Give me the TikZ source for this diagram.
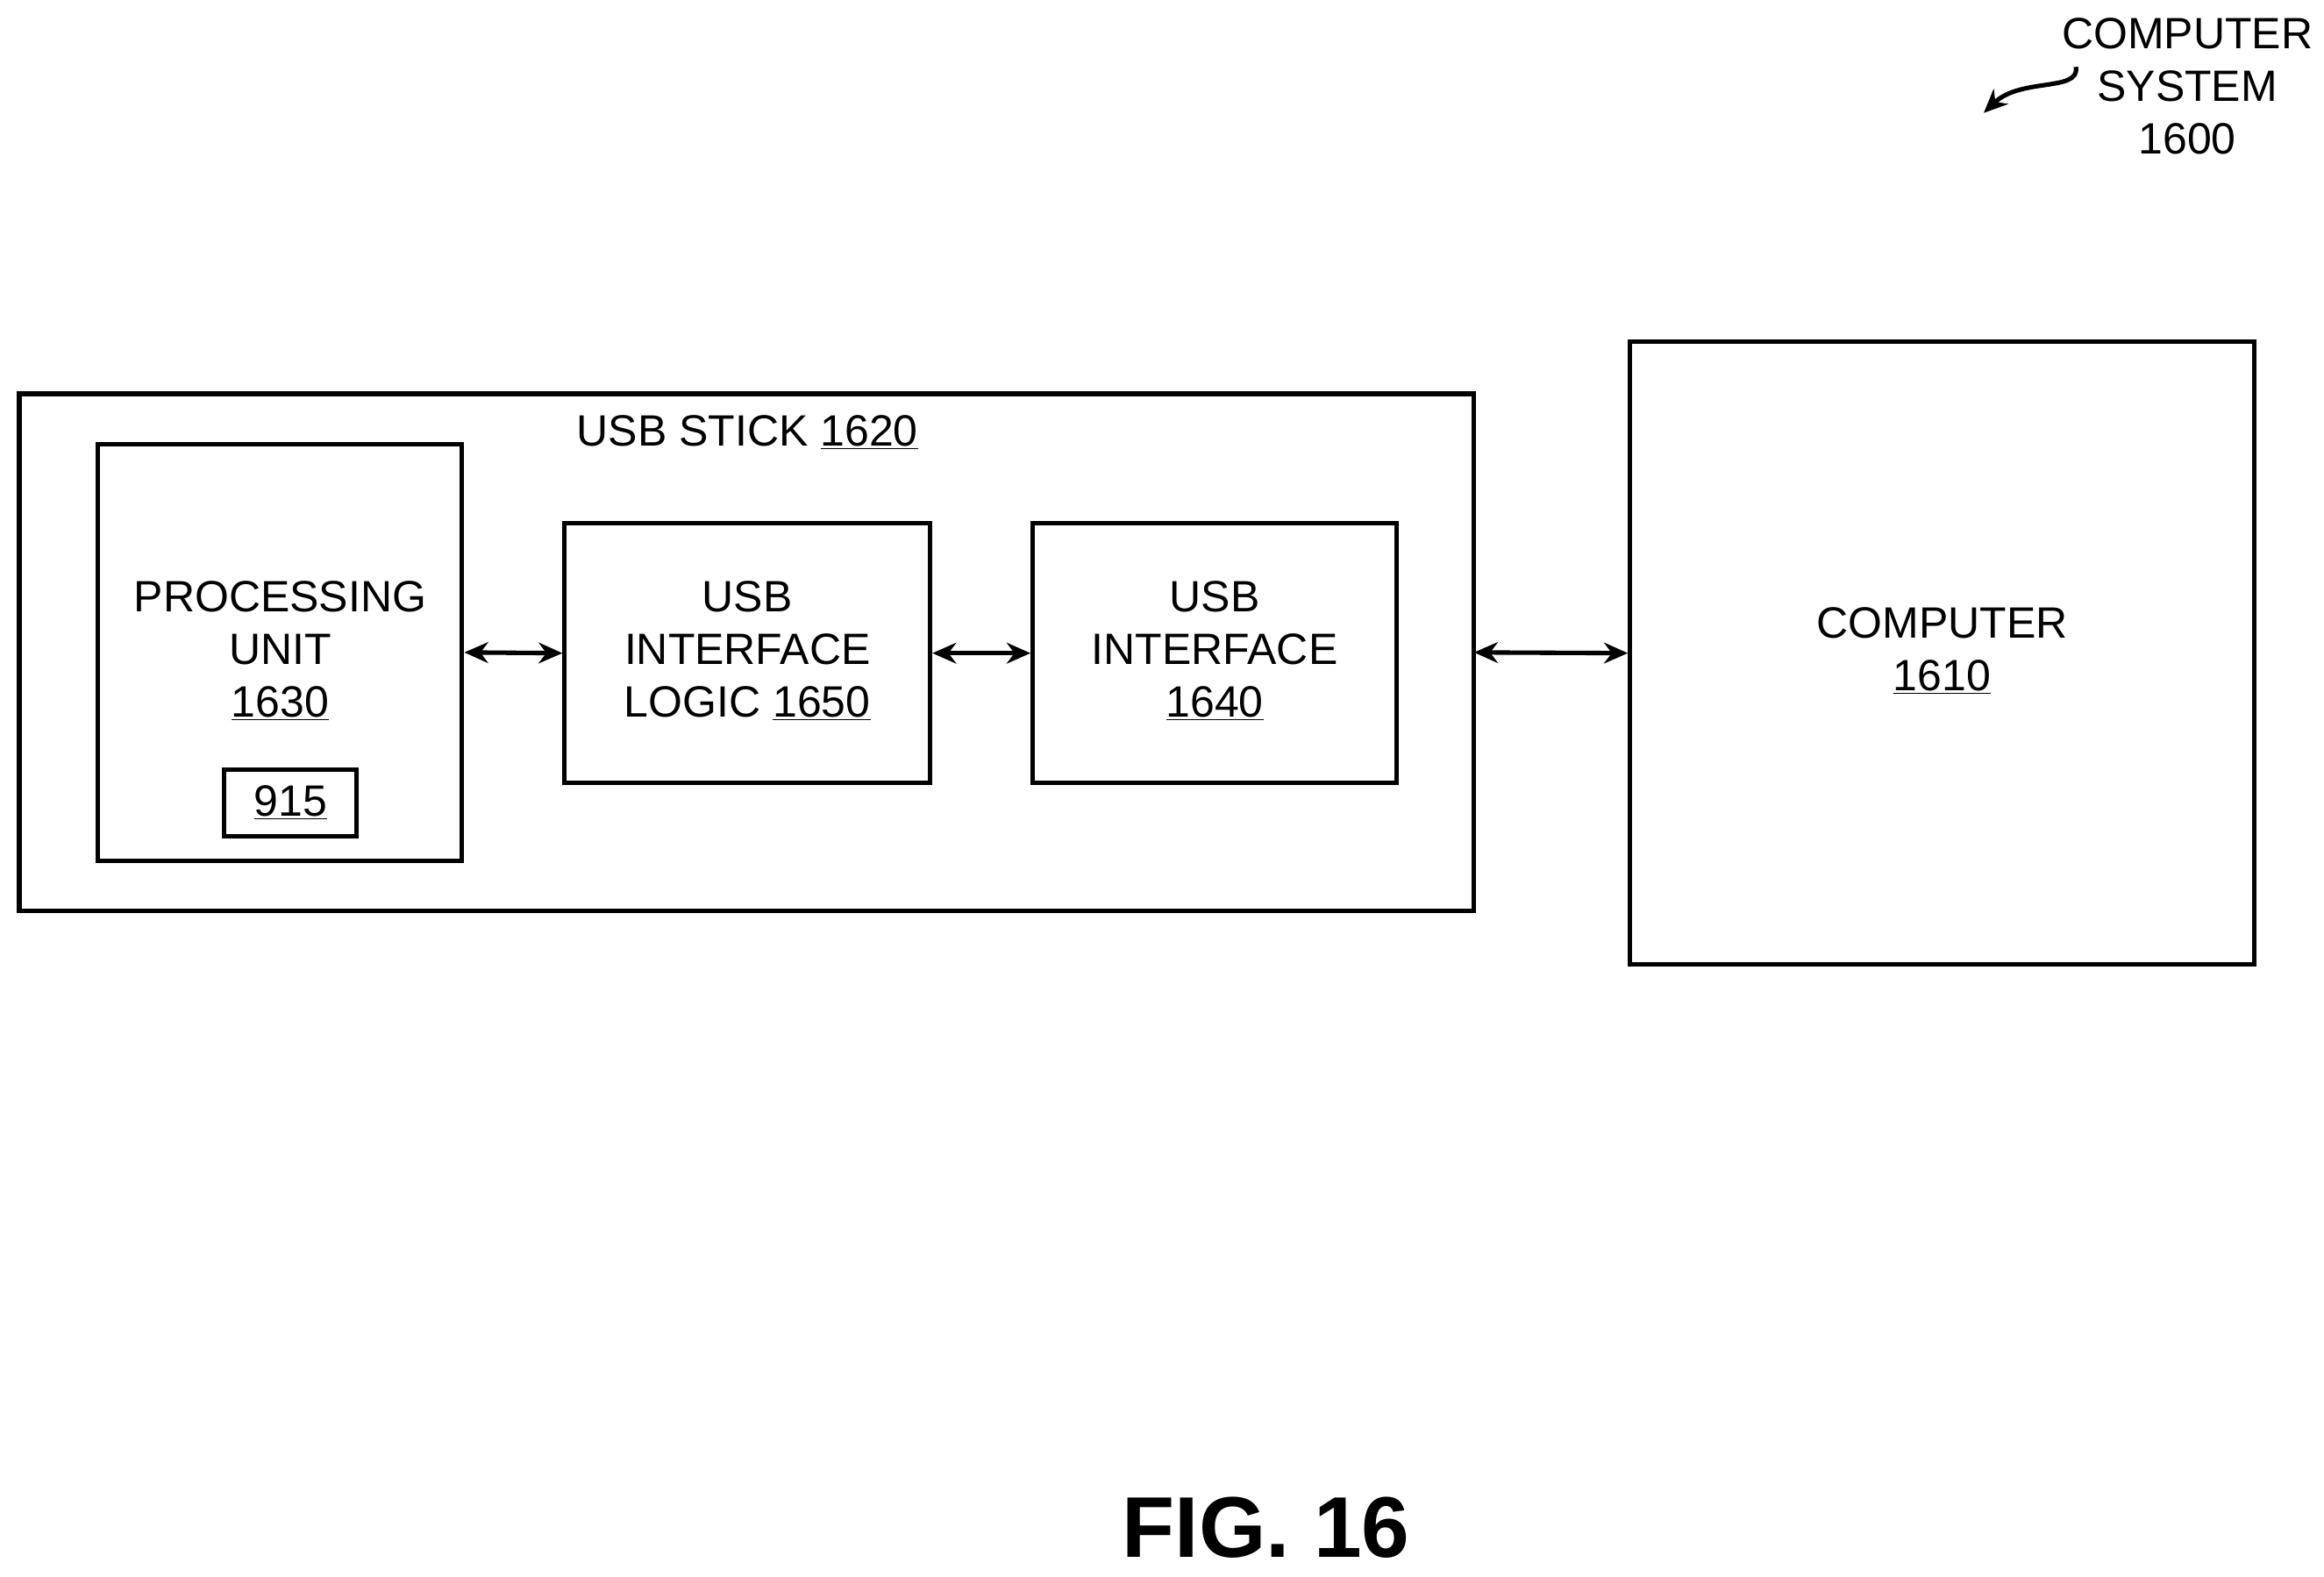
\documentclass[tikz,border=0pt]{standalone}
\usepackage{fontspec}
\setmainfont{Liberation Sans}
\usetikzlibrary{arrows.meta}
\begin{document}
\begin{tikzpicture}[x=1pt,y=-1pt,
  box/.style={draw,line width=3pt},
  lbl/.style={align=center,inner sep=0pt,font=\fontsize{29.5}{35.5}\selectfont},
  dbl/.style={line width=3pt,{Stealth[length=16pt,width=14pt]}-{Stealth[length=16pt,width=14pt]}}]
\useasboundingbox (0,0) rectangle (1564,1061);
\draw[box] (13,265) rectangle (992,613);
\node[lbl] (stick) at (503,291) {USB STICK \underline{1620}};
\node[box,minimum width=245pt,minimum height=280pt,inner sep=0pt] (pu) at (188.5,439) {};
\node[lbl] at (188.5,438) {PROCESSING\\UNIT\\\underline{1630}};
\node[box,minimum width=89pt,minimum height=45pt,inner sep=0pt] (s915) at (195.5,540.5) {};
\node[lbl] at (195.5,540) {\underline{915}};
\node[box,minimum width=246pt,minimum height=175pt,inner sep=0pt] (logic) at (503,439.5) {};
\node[lbl] at (503,438) {USB\\INTERFACE\\LOGIC \underline{1650}};
\node[box,minimum width=245pt,minimum height=175pt,inner sep=0pt] (intf) at (817.5,439.5) {};
\node[lbl] at (817.5,438) {USB\\INTERFACE\\\underline{1640}};
\node[box,minimum width=420pt,minimum height=419pt,inner sep=0pt] (comp) at (1307,439.5) {};
\node[lbl] at (1307,438) {COMPUTER\\\underline{1610}};
\coordinate (stickR) at (992,439);
\draw[dbl] (pu.east) -- (logic.west);
\draw[dbl] (logic.east) -- (intf.west);
\draw[dbl] (stickR) -- (comp.west);
\node[lbl] (sys) at (1472,58) {COMPUTER\\SYSTEM\\1600};
\coordinate (sq) at (1397,45);
\draw[line width=3pt,-{Stealth[length=16pt,width=14pt]}] (sq) .. controls (1400,62) and (1360,52) .. (1335,76);
\node[font=\bfseries\fontsize{58}{66}\selectfont,inner sep=0pt] (fig) at (852,1028) {FIG. 16};
\end{tikzpicture}
\end{document}
